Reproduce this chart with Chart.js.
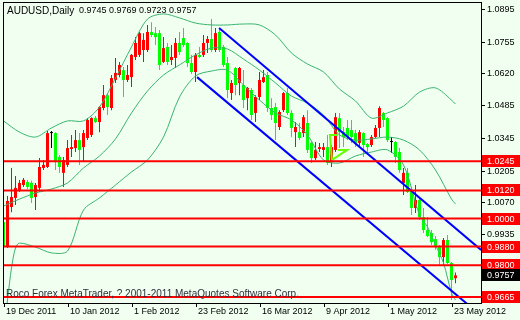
<!DOCTYPE html>
<html>
<head>
<meta charset="utf-8">
<script src="https://cdn.jsdelivr.net/npm/chart.js@4.4.1/dist/chart.umd.min.js"></script>
<style>
html, body { margin: 0; padding: 0; background: #f0fff0; }
#wrap { width: 520px; height: 320px; }
</style>
</head>
<body>
<div id="wrap"><canvas id="chart" width="520" height="320"></canvas></div>
<script>
// AUDUSD daily bars, 19 Dec 2011 .. 24 May 2012 (one value per bar)
const opens = [0.9985,0.9878,1.0049,1.0088,1.0122,1.0143,1.0156,1.0152,1.0092,1.0131,
  1.0216,1.0220,1.0365,1.0365,1.0263,1.0195,1.0229,1.0297,1.0301,1.0335,
  1.0305,1.0344,1.0357,1.0429,1.0412,1.0472,1.0527,1.0472,1.0592,1.0613,
  1.0634,1.0592,1.0604,1.0690,1.0699,1.0720,1.0720,1.0797,1.0792,1.0792,
  1.0669,1.0733,1.0677,1.0686,1.0750,1.0771,1.0750,1.0664,1.0626,1.0699,
  1.0699,1.0750,1.0767,1.0720,1.0797,1.0733,1.0664,1.0536,1.0643,1.0579,
  1.0570,1.0514,1.0549,1.0451,1.0519,1.0583,1.0613,1.0472,1.0476,1.0391,
  1.0463,1.0536,1.0451,1.0369,1.0369,1.0365,1.0408,1.0323,1.0258,1.0297,
  1.0293,1.0305,1.0241,1.0293,1.0429,1.0369,1.0387,1.0378,1.0365,1.0323,
  1.0365,1.0318,1.0314,1.0348,1.0387,1.0451,1.0429,1.0327,1.0327,1.0284,
  1.0152,1.0195,1.0122,1.0045,1.0079,1.0006,0.9951,0.9938,0.9912,0.9878,
  0.9835,0.9908,0.9810,0.9745];
const highs = [1.0002,1.0096,1.0216,1.0182,1.0165,1.0173,1.0165,1.0161,1.0152,1.0258,
  1.0250,1.0374,1.0374,1.0369,1.0271,1.0263,1.0335,1.0357,1.0378,1.0365,
  1.0378,1.0429,1.0433,1.0438,1.0480,1.0570,1.0536,1.0613,1.0686,1.0669,
  1.0647,1.0656,1.0703,1.0775,1.0797,1.0792,1.0827,1.0839,1.0818,1.0805,
  1.0775,1.0750,1.0741,1.0771,1.0797,1.0814,1.0754,1.0699,1.0707,1.0733,
  1.0784,1.0780,1.0852,1.0814,1.0814,1.0741,1.0690,1.0592,1.0647,1.0647,
  1.0634,1.0562,1.0558,1.0527,1.0626,1.0634,1.0626,1.0514,1.0493,1.0463,
  1.0540,1.0558,1.0463,1.0412,1.0408,1.0442,1.0463,1.0327,1.0327,1.0323,
  1.0323,1.0357,1.0314,1.0451,1.0451,1.0391,1.0421,1.0421,1.0378,1.0378,
  1.0369,1.0323,1.0357,1.0399,1.0480,1.0455,1.0433,1.0348,1.0331,1.0301,
  1.0216,1.0216,1.0131,1.0143,1.0088,1.0045,1.0006,0.9951,0.9925,0.9887,
  0.9917,0.9929,0.9814,0.9769];
const lows = [0.9874,0.9874,1.0027,1.0058,1.0113,1.0135,1.0126,1.0066,1.0036,1.0113,
  1.0207,1.0216,1.0301,1.0207,1.0195,1.0135,1.0220,1.0263,1.0284,1.0229,
  1.0241,1.0335,1.0348,1.0408,1.0369,1.0463,1.0442,1.0463,1.0579,1.0604,
  1.0519,1.0583,1.0562,1.0677,1.0690,1.0669,1.0711,1.0775,1.0741,1.0634,
  1.0664,1.0656,1.0656,1.0643,1.0699,1.0733,1.0647,1.0617,1.0583,1.0686,
  1.0690,1.0707,1.0711,1.0711,1.0711,1.0647,1.0514,1.0506,1.0527,1.0527,
  1.0472,1.0463,1.0421,1.0412,1.0506,1.0579,1.0455,1.0421,1.0335,1.0378,
  1.0455,1.0442,1.0348,1.0305,1.0335,1.0348,1.0280,1.0237,1.0250,1.0284,
  1.0263,1.0229,1.0220,1.0284,1.0301,1.0305,1.0335,1.0323,1.0305,1.0305,
  1.0263,1.0280,1.0305,1.0344,1.0348,1.0391,1.0327,1.0280,1.0237,1.0195,
  1.0100,1.0109,1.0015,1.0024,0.9994,0.9938,0.9921,0.9887,0.9866,0.9801,
  0.9801,0.9806,0.9652,0.9723];
const closes = [0.9878,1.0075,1.0092,1.0131,1.0152,1.0165,1.0135,1.0088,1.0143,1.0220,
  1.0229,1.0365,1.0365,1.0241,1.0220,1.0250,1.0301,1.0305,1.0335,1.0293,
  1.0365,1.0421,1.0429,1.0412,1.0476,1.0527,1.0476,1.0600,1.0622,1.0656,
  1.0592,1.0613,1.0699,1.0750,1.0792,1.0763,1.0797,1.0784,1.0775,1.0656,
  1.0728,1.0669,1.0690,1.0750,1.0711,1.0741,1.0664,1.0626,1.0699,1.0690,
  1.0750,1.0767,1.0720,1.0792,1.0720,1.0656,1.0549,1.0579,1.0570,1.0643,
  1.0506,1.0558,1.0442,1.0519,1.0592,1.0604,1.0472,1.0442,1.0408,1.0455,
  1.0536,1.0451,1.0387,1.0391,1.0344,1.0433,1.0293,1.0258,1.0293,1.0305,
  1.0305,1.0237,1.0305,1.0433,1.0369,1.0348,1.0348,1.0348,1.0323,1.0369,
  1.0314,1.0305,1.0348,1.0387,1.0472,1.0421,1.0335,1.0327,1.0263,1.0207,
  1.0195,1.0113,1.0045,1.0079,1.0006,0.9951,0.9925,0.9899,0.9878,0.9835,
  0.9908,0.9810,0.9737,0.9757];

// time axis labels (bar index -> date)
const dateIdx = [0, 16, 32, 48, 64, 80, 96, 112];
const dateLabels = ['19 Dec 2011', '10 Jan 2012', '1 Feb 2012', '23 Feb 2012',
  '16 Mar 2012', '9 Apr 2012', '1 May 2012', '23 May 2012'];

// price axis labels
const priceTicks = [1.0895, 1.0755, 1.0620, 1.0485, 1.0345, 1.0205, 1.0070, 0.9935];

// Bollinger bands, read every few bars
const bandIdx = [0,4,8,12,16,20,24,28,32,36,40,44,48,52,56,60,64,68,72,76,80,84,88,92,96,100,104,108,112,113];
const bandUpper = [1.0417,1.0369,1.0348,1.0387,1.0417,1.0417,1.0476,1.0600,1.0733,1.0852,
  1.0874,1.0857,1.0835,1.0827,1.0827,1.0831,1.0827,1.0784,1.0707,1.0660,
  1.0626,1.0553,1.0502,1.0429,1.0451,1.0480,1.0540,1.0558,1.0506,1.0489];
const bandMid = [1.0053,1.0083,1.0109,1.0126,1.0152,1.0216,1.0267,1.0340,1.0451,1.0545,
  1.0613,1.0656,1.0699,1.0728,1.0724,1.0681,1.0634,1.0579,1.0523,1.0493,
  1.0442,1.0357,1.0335,1.0340,1.0348,1.0335,1.0293,1.0207,1.0083,1.0062];
const lowerIdx = [0,1,2,3,4,8,12,16,20,24,28,32,36,40,44,48,52,56,60,64,68,72,76,80,84,88,92,96,100,104,106,108,110,112,113];
const bandLower = [0.9524,0.9652,0.9789,0.9874,0.9895,0.9878,0.9853,0.9861,1.0036,1.0088,
  1.0143,1.0199,1.0250,1.0348,1.0519,1.0609,1.0630,1.0634,1.0570,1.0506,
  1.0451,1.0421,1.0357,1.0250,1.0237,1.0267,1.0284,1.0293,1.0229,1.0015,
  0.9964,0.9887,0.9810,0.9682,0.9652];

// drawn objects
const levels = [1.0245, 1.0120, 1.0000, 0.9880, 0.9800, 0.9665];
const chanUpperX = [53.9, 119.4], chanUpperY = [1.0814, 0.9866];
const chanLowerX = [48.4, 116.0], chanLowerY = [1.0604, 0.9634];
const zigX = [83.6, 81.6, 82.1, 85.9, 83.6];
const zigY = [1.0357, 1.0357, 1.0250, 1.0293, 1.0293];

const xMin = -0.125, xMax = 119.375;
const FONT = '"Liberation Sans"';
const BG = '#f0fff0';

const candleColor = opens.map((o, i) =>
  closes[i] > o ? '#ff0000' : (closes[i] < o ? '#00ff00' : '#000000'));

const pts = (xs, ys) => xs.map((x, i) => ({ x: x, y: ys[i] }));

const lineSet = (data, color, width) => ({
  type: 'line', data: data, borderColor: color, borderWidth: width,
  pointRadius: 0, fill: false, tension: 0
});

const datasets = [];
levels.forEach(l => datasets.push(lineSet([{ x: xMin, y: l }, { x: xMax, y: l }], '#ff0000', 2)));
datasets.push(lineSet(pts(chanUpperX, chanUpperY), '#0000ff', 2));
datasets.push(lineSet(pts(chanLowerX, chanLowerY), '#0000ff', 2));
datasets.push(lineSet(pts(zigX, zigY), '#66ff00', 2));
[bandUpper, bandMid].forEach(b => {
  const ds = lineSet(pts(bandIdx, b), '#3cb371', 1);
  ds.tension = 0.3;
  datasets.push(ds);
});
const lowDs = lineSet(pts(lowerIdx, bandLower), '#3cb371', 1);
lowDs.tension = 0.3;
datasets.push(lowDs);

// candles: wick then body
datasets.push({
  type: 'bar', data: opens.map((o, i) => ({ x: i, y: [lows[i], highs[i]] })),
  backgroundColor: candleColor, barThickness: 1, grouped: false, inflateAmount: 0
});
datasets.push({
  type: 'bar', data: opens.map((o, i) => ({ x: i, y: [o, closes[i]] })),
  backgroundColor: candleColor, barThickness: 3, grouped: false, inflateAmount: 0, minBarLength: 1
});

const mtPlugin = {
  id: 'mt',
  beforeDraw(chart) {
    const ctx = chart.ctx;
    ctx.save();
    ctx.fillStyle = BG;
    ctx.fillRect(0, 0, chart.width, chart.height);
    ctx.restore();
  },
  afterDraw(chart) {
    const ctx = chart.ctx, a = chart.chartArea;
    const xs = chart.scales.x, ys = chart.scales.y;
    const L = Math.round(a.left), R = Math.round(a.right);
    const T = Math.round(a.top), B = Math.round(a.bottom);
    ctx.save();
    // frame
    ctx.strokeStyle = '#000';
    ctx.lineWidth = 1;
    ctx.strokeRect(L + 0.5, T + 0.5, R - L, B - T);
    ctx.font = '9px ' + FONT;
    ctx.textBaseline = 'middle';
    ctx.textAlign = 'left';
    ctx.fillStyle = '#000';
    // time axis
    ctx.beginPath();
    dateIdx.forEach((v, k) => {
      const px = Math.round(xs.getPixelForValue(v));
      ctx.moveTo(px + 0.5, B + 1);
      ctx.lineTo(px + 0.5, B + 4);
      ctx.fillText(dateLabels[k], px + 2, B + 9);
    });
    // price axis
    priceTicks.forEach(v => {
      const py = Math.round(ys.getPixelForValue(v));
      ctx.moveTo(R + 1, py + 0.5);
      ctx.lineTo(R + 4, py + 0.5);
      ctx.fillText(v.toFixed(4), R + 6, py + 0.5);
    });
    ctx.stroke();
    // price boxes on the axis
    const box = (v, fill) => {
      const y = Math.round(ys.getPixelForValue(v));
      ctx.fillStyle = fill;
      ctx.fillRect(R + 1, y - 6, chart.width - R - 1, 12);
      ctx.fillStyle = '#ffffff';
      ctx.fillText(v.toFixed(4), R + 6, y + 0.5);
    };
    levels.forEach(l => box(l, '#ff0000'));
    box(closes[closes.length - 1], '#000000');
    // header and footer
    const n = opens.length - 1;
    ctx.fillStyle = '#000';
    ctx.fillText([opens[n], highs[n], lows[n], closes[n]].map(v => v.toFixed(4)).join(' '), 79, 11);
    ctx.font = '10px ' + FONT;
    ctx.fillText('AUDUSD,Daily', 7, 11);
    ctx.fillStyle = '#303040';
    ctx.fillText('Roco Forex MetaTrader, ? 2001-2011 MetaQuotes Software Corp.', 6, 294);
    ctx.restore();
  }
};

new Chart(document.getElementById('chart'), {
  type: 'bar',
  data: { datasets: datasets },
  options: {
    responsive: false,
    animation: false,
    events: [],
    layout: { padding: { left: 3, top: 2, right: 39, bottom: 17 } },
    plugins: { legend: { display: false }, tooltip: { enabled: false } },
    scales: {
      x: { type: 'linear', min: xMin, max: xMax, offset: false, display: false },
      y: { type: 'linear', min: 0.9639, max: 1.0925, display: false }
    }
  },
  plugins: [mtPlugin]
});
</script>
</body>
</html>
